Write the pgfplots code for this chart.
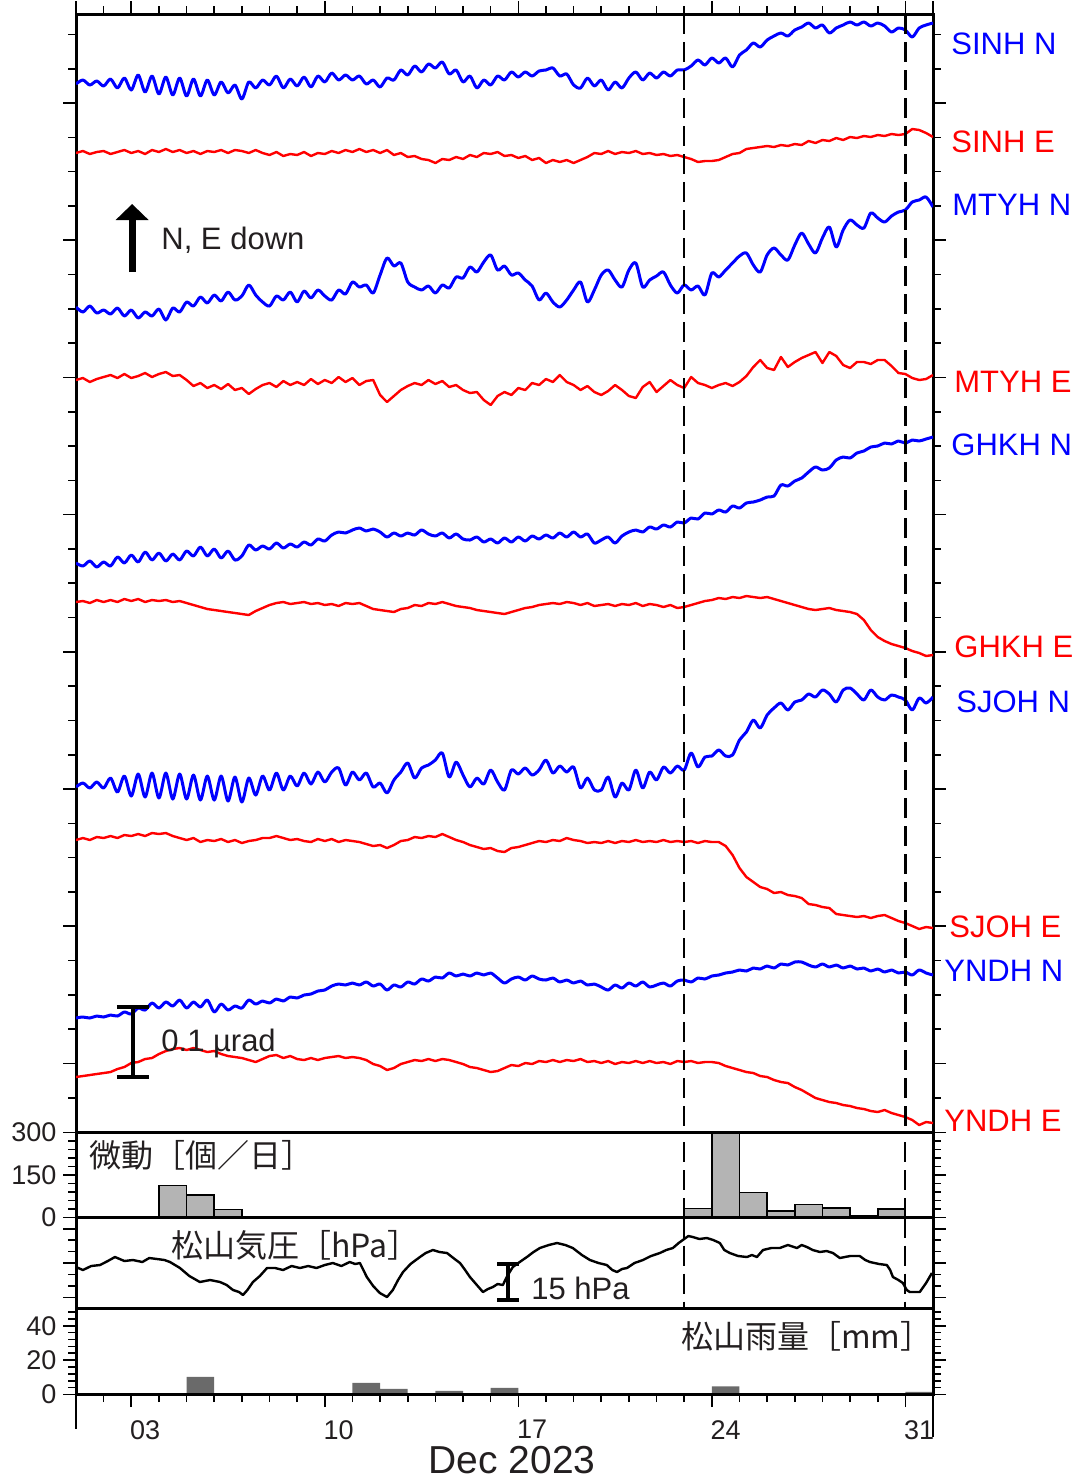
\documentclass[border=0pt]{standalone}
\usepackage{pgfplots}
\pgfplotsset{compat=1.18}
\usepackage{pgfplotstable}
\usepackage{fontspec}
\setmainfont{Liberation Sans}
\newfontfamily\jp{Noto Sans CJK JP}
\usetikzlibrary{arrows.meta}
\definecolor{txt}{HTML}{231F20}
\definecolor{tblue}{RGB}{0,0,255}
\definecolor{tred}{RGB}{255,0,0}
\definecolor{tremor}{HTML}{B4B4B4}
\definecolor{rain}{HTML}{6A6A6A}

% tilt traces: day of Dec 2023 vs vertical position (picture units, downwards)
\pgfplotstableread{
d sN sE mN mE gN gE jN jE yN yE
1.00 84 153 307 380 563 602 787 840 1018 1077
1.25 80 151 312 378 566 601 783 838 1017 1076
1.50 85 154 306 382 561 603 788 840 1018 1075
1.75 81 152 313 379 567 600 782 837 1016 1074
2.00 86 151 310 377 562 602 788 838 1017 1073
2.25 79 154 314 375 566 600 778 836 1015 1072
2.50 88 152 308 378 557 602 792 838 1016 1069
2.75 78 150 316 374 563 599 776 835 1012 1067
3.00 90 153 310 378 555 601 796 836 1014 1063
3.25 75 151 318 376 562 599 774 834 1008 1062
3.50 92 154 312 373 552 602 797 836 1010 1059
3.75 76 150 316 377 560 600 773 833 1003 1058
4.00 94 152 309 374 553 601 798 834 1008 1054
4.25 77 149 320 372 561 600 773 833 1002 1051
4.50 95 152 308 376 554 602 799 836 1006 1049
4.75 78 150 312 375 560 601 774 838 1000 1048
5.00 96 153 302 380 551 603 799 840 1008 1050
5.25 79 151 306 386 556 605 775 838 1002 1048
5.50 96 154 297 383 547 607 800 842 1007 1050
5.75 80 151 303 388 556 609 776 840 1000 1052
6.00 95 152 295 385 549 610 800 841 1012 1051
6.25 82 150 301 389 558 611 776 839 1004 1054
6.50 93 153 292 384 551 612 801 842 1010 1056
6.75 85 150 300 390 560 613 777 840 1006 1057
7.00 99 151 296 388 556 614 802 843 1008 1058
7.25 82 153 285 394 545 615 778 841 1000 1060
7.50 88 150 295 389 550 611 795 840 1004 1062
7.75 80 153 302 385 546 608 776 838 1001 1059
8.00 85 155 306 383 549 605 790 838 1003 1056
8.25 76 152 296 387 543 603 773 836 999 1055
8.50 88 156 300 381 548 602 790 838 1001 1058
8.75 79 154 292 385 544 604 776 840 997 1056
9.00 86 155 302 382 547 603 786 839 998 1059
9.25 77 152 291 385 542 602 773 841 995 1060
9.50 87 156 298 379 545 604 784 842 994 1058
9.75 76 153 290 384 539 603 772 839 991 1060
10.00 82 154 296 380 541 605 782 841 990 1058
10.25 73 151 300 383 535 604 772 839 986 1057
10.50 80 153 290 377 532 606 768 842 984 1056
10.75 75 150 294 382 533 603 785 840 985 1058
11.00 80 152 282 378 530 604 772 841 983 1057
11.25 76 149 287 385 528 603 780 842 985 1058
11.50 84 152 285 381 531 606 773 844 982 1060
11.75 80 150 293 380 529 609 787 846 986 1064
12.00 87 153 275 395 532 610 783 845 984 1066
12.25 78 150 258 402 537 611 793 848 990 1070
12.50 80 155 266 396 533 612 780 845 985 1068
12.75 70 153 263 390 536 609 772 841 987 1064
13.00 75 157 282 386 533 608 763 840 982 1062
13.25 66 156 287 383 535 605 778 837 984 1060
13.50 72 159 290 385 530 606 768 838 979 1061
13.75 64 160 286 380 534 603 765 836 981 1059
14.00 68 163 293 384 536 604 760 837 977 1061
14.25 62 159 285 381 533 602 753 834 978 1059
14.50 74 160 288 387 538 604 777 837 973 1060
14.75 70 157 277 385 534 606 762 840 976 1062
15.00 82 159 278 390 539 607 775 842 974 1064
15.25 76 155 267 393 540 608 787 845 976 1067
15.50 88 157 272 392 537 610 778 847 973 1068
15.75 80 153 262 400 542 611 784 849 975 1070
16.00 85 154 255 405 539 612 770 848 973 1072
16.25 76 152 270 396 543 613 782 851 978 1071
16.50 80 156 266 392 538 614 790 852 983 1068
16.75 72 155 275 395 542 612 770 848 979 1065
17.00 77 158 273 388 537 610 774 847 977 1066
17.25 72 156 280 390 541 608 768 845 980 1063
17.50 76 160 286 383 536 607 775 843 976 1064
17.75 71 158 300 385 539 605 770 841 979 1061
18.00 70 163 293 379 535 604 760 842 980 1062
18.25 68 160 302 382 538 603 773 840 978 1060
18.50 76 162 307 375 533 604 766 841 982 1062
18.75 74 160 300 382 537 602 772 838 980 1060
19.00 85 163 290 385 532 603 767 840 983 1061
19.25 88 160 282 390 537 605 788 841 981 1059
19.50 78 157 302 386 534 603 778 843 985 1062
19.75 86 153 290 392 543 606 790 842 984 1061
20.00 80 154 275 395 540 605 790 843 987 1063
20.25 90 151 270 391 537 604 777 841 990 1061
20.50 82 154 280 385 543 606 797 843 985 1064
20.75 88 152 287 390 536 604 783 841 988 1062
21.00 78 153 270 396 532 605 790 842 983 1063
21.25 72 151 263 398 530 603 770 840 986 1061
21.50 80 154 287 387 532 606 788 842 982 1063
21.75 73 153 280 382 527 604 772 841 987 1061
22.00 78 155 276 392 529 605 780 842 985 1063
22.25 72 154 272 386 525 607 767 840 983 1062
22.50 76 156 285 380 527 605 773 842 986 1064
22.75 70 155 293 385 522 608 766 841 981 1061
23.00 70 157 285 388 523 607 770 842 980 1062
23.25 66 159 290 377 518 605 753 841 982 1061
23.50 60 162 286 383 519 603 767 843 978 1063
23.75 65 161 295 385 513 601 757 841 979 1062
24.00 58 161 273 388 514 600 756 842 976 1062
24.25 63 160 277 385 510 598 750 842 975 1063
24.50 58 157 270 383 512 599 756 846 973 1066
24.75 67 154 263 386 506 597 755 855 972 1068
25.00 55 153 256 382 508 598 740 868 970 1070
25.25 50 149 253 376 503 596 732 877 971 1072
25.50 43 148 265 367 502 597 720 882 968 1073
25.75 47 147 272 360 500 598 728 887 969 1076
26.00 40 146 255 368 497 597 715 889 966 1077
26.25 36 147 248 370 496 599 708 893 968 1080
26.50 33 145 255 357 485 601 703 892 964 1082
26.75 36 146 260 367 486 603 710 895 965 1083
27.00 30 144 245 362 481 605 702 896 962 1087
27.25 27 145 233 358 478 607 700 898 962 1090
27.50 23 141 244 355 472 609 694 904 965 1094
27.75 28 143 253 352 467 610 697 905 967 1098
28.00 25 140 238 363 470 609 690 907 964 1100
28.25 33 141 227 352 468 608 694 908 967 1102
28.50 28 138 247 356 460 610 702 914 965 1103
28.75 25 140 230 365 457 611 690 915 968 1105
29.00 22 137 220 368 458 612 688 916 966 1106
29.25 25 138 225 362 453 614 694 917 969 1108
29.50 22 136 228 362 451 620 700 916 968 1109
29.75 26 137 213 364 447 630 690 918 971 1111
30.00 23 135 218 360 446 637 697 916 969 1112
30.25 26 136 222 360 443 641 700 915 972 1110
30.50 32 134 216 366 444 644 695 918 970 1113
30.75 28 135 212 373 441 646 697 921 973 1115
31.00 30 134 210 374 443 648 700 923 972 1117
31.25 37 129 202 378 440 651 710 926 975 1120
31.50 28 130 200 380 441 653 698 929 970 1125
31.75 25 133 197 379 439 656 703 927 973 1122
32.00 23 137 207 375 437 655 697 928 975 1123
}\tilt

% Matsuyama pressure (picture units, downwards)
\pgfplotstableread{
d p
1.00 1267
1.25 1270
1.55 1266
1.87 1265
2.15 1261
2.41 1257
2.75 1261
3.06 1260
3.40 1262
3.65 1258
3.93 1259
4.20 1260
4.40 1262
4.76 1268
5.10 1276
5.48 1282
5.85 1280
6.21 1282
6.45 1285
6.68 1290
6.90 1292
7.04 1295
7.20 1290
7.40 1282
7.65 1276
7.91 1268
8.20 1268
8.49 1270
8.80 1266
9.10 1268
9.40 1266
9.70 1268
10.00 1265
10.29 1263
10.60 1266
10.90 1262
11.10 1264
11.27 1263
11.52 1277
11.75 1286
11.99 1293
12.25 1297
12.46 1290
12.65 1280
12.83 1272
13.10 1264
13.44 1257
13.65 1253
13.91 1250
14.15 1252
14.42 1253
14.65 1258
14.89 1263
15.05 1269
15.25 1277
15.50 1285
15.72 1292
15.90 1289
16.08 1287
16.25 1284
16.44 1285
16.60 1276
16.80 1267
17.05 1262
17.31 1257
17.55 1252
17.78 1248
18.10 1245
18.40 1243
18.70 1245
18.97 1248
19.30 1255
19.59 1260
19.90 1263
20.20 1265
20.40 1270
20.57 1272
20.75 1269
20.93 1268
21.20 1263
21.51 1260
21.80 1256
22.12 1253
22.35 1250
22.59 1248
22.80 1243
22.95 1240
23.15 1236
23.31 1237
23.55 1239
23.82 1238
24.05 1240
24.29 1243
24.45 1250
24.65 1253
24.95 1256
25.27 1257
25.45 1255
25.63 1257
25.85 1250
26.15 1248
26.46 1248
26.75 1245
27.08 1248
27.25 1245
27.44 1247
27.65 1250
27.91 1252
28.15 1251
28.38 1253
28.63 1258
29.00 1256
29.35 1256
29.55 1260
29.72 1262
30.05 1264
30.33 1265
30.45 1270
30.55 1277
30.75 1280
30.91 1283
31.05 1290
31.16 1292
31.35 1292
31.52 1292
31.75 1283
31.96 1273
}\press

\pgfplotsset{
  panel/.style={
    scale only axis, width=428.5pt, anchor=north west,
    xmin=1, xmax=32,
    axis line style={line width=1.5pt},
    tick align=outside,
    major tick length=6.3pt, minor tick length=3.8pt,
    every tick/.style={black, line width=0.8pt},
    ytick pos=both, yticklabel pos=left,
    ticklabel style={font=\fontsize{13.5}{14}\selectfont, text=txt},
  },
  blueline/.style={tblue, line width=1.5pt, smooth, line join=round},
  redline/.style={tred, line width=1.2pt, line join=round},
}
\newcommand\lbl{\fontsize{15.5}{17}\selectfont}
\newcommand\jlbl{\jp\fontsize{16}{18}\selectfont}

\begin{document}
\begin{tikzpicture}
\path[use as bounding box] (0,0) rectangle (541.5pt,-740.5pt);

% tilt panel
\begin{axis}[panel, at={(38pt,-7pt)}, height=559.25pt,
  ymin=14, ymax=1132.5, y dir=reverse,
  xtick pos=right, xtick={1,3,10,17,24,31,32}, minor xtick={2,...,31},
  xticklabels=\empty,
  ytick={103,240.2,377.4,514.6,651.8,789,926.2,1063.4},
  minor ytick={34.4,68.7,...,1100}, yticklabels=\empty]
\addplot[blueline] table[x=d,y=sN]{\tilt};
\addplot[redline] table[x=d,y=sE]{\tilt};
\addplot[blueline] table[x=d,y=mN]{\tilt};
\addplot[redline] table[x=d,y=mE]{\tilt};
\addplot[blueline] table[x=d,y=gN]{\tilt};
\addplot[redline] table[x=d,y=gE]{\tilt};
\addplot[blueline] table[x=d,y=jN]{\tilt};
\addplot[redline] table[x=d,y=jE]{\tilt};
\addplot[blueline] table[x=d,y=yN]{\tilt};
\addplot[redline] table[x=d,y=yE]{\tilt};
\draw[line width=1.2pt, dash pattern=on 10pt off 4pt] (axis cs:23,14) -- (axis cs:23,1132.5);
\draw[line width=1.2pt, dash pattern=on 10pt off 4pt] (axis cs:31,14) -- (axis cs:31,1132.5);
% arrow and 0.1 urad scale bar
\draw[line width=3.5pt, -{Triangle[width=16pt,length=8pt]}] (axis cs:3.03,272) -- (axis cs:3.03,204);
\draw[line width=2pt] (axis cs:2.48,1007) -- (axis cs:3.64,1007)
  (axis cs:3.06,1007) -- (axis cs:3.06,1077)
  (axis cs:2.48,1077) -- (axis cs:3.64,1077);
\end{axis}

% tremor counts per day
\begin{axis}[panel, at={(38pt,-566.25pt)}, height=42.5pt, axis on top,
  ymin=0, ymax=300, xtick=\empty,
  ytick={0,150,300}, yticklabels={0,150,300}, minor ytick={30,60,...,270}]
\addplot[ybar interval, fill=tremor, draw=black, line width=0.8pt]
  coordinates {(3,3) (4,113) (5,79) (6,28) (7,2) (8,2)};
\addplot[ybar interval, fill=tremor, draw=black, line width=0.8pt]
  coordinates {(18,2) (19,2) (20,2)};
\addplot[ybar interval, fill=tremor, draw=black, line width=0.8pt]
  coordinates {(23,32) (24,300) (25,88) (26,23) (27,46) (28,34) (29,5) (30,29) (31,0)};
\draw[line width=0.9pt, dash pattern=on 10pt off 4pt] (axis cs:23,0) -- (axis cs:23,300);
\draw[line width=0.9pt, dash pattern=on 10pt off 4pt] (axis cs:31,0) -- (axis cs:31,300);
\end{axis}

% pressure
\begin{axis}[panel, at={(38pt,-608.75pt)}, height=45.5pt,
  ymin=1217.5, ymax=1308.5, y dir=reverse, xtick=\empty,
  ytick={1228.7,1263,1297.3}, minor ytick={1240.2,1251.6,1274.4,1285.9},
  yticklabels=\empty]
\addplot[black, line width=1.2pt, line join=round] table[x=d,y=p]{\press};
\draw[line width=0.9pt, dash pattern=on 10pt off 4pt] (axis cs:23,1217.5) -- (axis cs:23,1308.5);
\draw[line width=0.9pt, dash pattern=on 10pt off 4pt] (axis cs:31,1217.5) -- (axis cs:31,1308.5);
\draw[line width=2pt] (axis cs:16.23,1264) -- (axis cs:17.02,1264)
  (axis cs:16.62,1264) -- (axis cs:16.62,1300)
  (axis cs:16.23,1300) -- (axis cs:17.02,1300);
\end{axis}

% rain
\begin{axis}[panel, at={(38pt,-654.25pt)}, height=43pt, axis on top, clip=false,
  ymin=0, ymax=50,
  xtick pos=left, xtick={3,10,17,24,31}, xticklabels={03,10,17,24,31},
  minor xtick={1,...,32}, xticklabel style={xshift=6.9pt, yshift=-3pt},
  ytick={0,20,40}, yticklabels={0,20,40}, minor ytick={4,8,...,48}]
\addplot[ybar interval, fill=rain, draw=none]
  coordinates {(3,0.5) (4,0) (5,10.2) (6,0) (7,0.5) (8,0) (11,6.8) (12,3.3) (13,0)
  (14,2.1) (15,0) (16,3.8) (17,0) (19,0.4) (20,0) (24,4.8) (25,0) (31,1.5) (32,0)};
\draw[line width=0.8pt] (axis cs:1,0) -- ([yshift=-17pt]axis cs:1,0);
\draw[line width=0.8pt] (axis cs:32,0) -- ([yshift=-21pt]axis cs:32,0);
\end{axis}

% labels, in picture units
\begin{scope}[x=0.5pt, y=-0.5pt, every node/.style={inner sep=0pt}]
\node[anchor=west, text=tblue] at (951,44) {\lbl SINH N};
\node[anchor=west, text=tred] at (951,142) {\lbl SINH E};
\node[anchor=west, text=tblue] at (952,205) {\lbl MTYH N};
\node[anchor=west, text=tred] at (954,382) {\lbl MTYH E};
\node[anchor=west, text=tblue] at (951,445) {\lbl GHKH N};
\node[anchor=west, text=tred] at (954,647) {\lbl GHKH E};
\node[anchor=west, text=tblue] at (956,702) {\lbl SJOH N};
\node[anchor=west, text=tred] at (949,927) {\lbl SJOH E};
\node[anchor=west, text=tblue] at (944,971) {\lbl YNDH N};
\node[anchor=west, text=tred] at (944,1121) {\lbl YNDH E};
\node[anchor=west, text=txt] at (161,240) {\lbl N, E down};
\node[anchor=west, text=txt] at (161,1043) {\lbl 0.1 µrad};
\node[anchor=west, text=txt] at (89,1155) {\jlbl 微動［個／日］};
\node[anchor=west, text=txt] at (171,1245) {\jlbl 松山気圧［hPa］};
\node[anchor=west, text=txt] at (531,1288) {\lbl 15 hPa};
\node[anchor=east, text=txt] at (933,1336) {\jlbl 松山雨量［mm］};
\node[anchor=base, text=txt] at (512,1473) {\fontsize{19.5}{21}\selectfont Dec 2023};
\end{scope}
\end{tikzpicture}
\end{document}
